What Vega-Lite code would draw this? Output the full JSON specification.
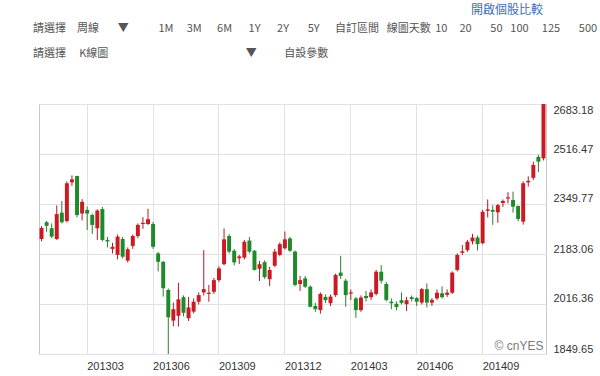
{
  "$schema": "https://vega.github.io/schema/vega-lite/v6.json",
  "width": 507,
  "height": 250,
  "autosize": {"type": "none"},
  "padding": {"left": 39, "top": 104, "right": 54, "bottom": 22},
  "background": "white",
  "title": {
    "text": "\u200b\u3000\u3000\u3000\u3000\u3000\u3000\u3000\u3000\u3000\u3000\u3000\u3000\u3000\u3000\u3000\u3000\u3000\u3000\u3000\u3000\u3000\u3000\u3000\u3000\u3000\u3000\u3000\u3000\u3000\u3000\u3000\u3000\u3000\u3000\u3000\u3000\u2002開啟個股比較",
    "subtitle": [
      "請選擇\u2003周線\u2003\u2002\u2009▼\u2003\u2003\u2002\u20091M\u2003\u20093M\u2003\u2009\u20096M\u2003\u20021Y\u2003\u20022Y\u2003\u2002\u20095Y\u2003\u2009\u2009自訂區間\u2002\u2009線圖天數\u2009\u200910\u2002\u2009\u2009\u200920\u2003\u2002\u200950\u2002\u2009100\u2003\u2009125\u2003\u2002\u2009500",
      "請選擇\u2003\u2009K線圖\u2003\u2003\u2003\u2003\u2003\u2003\u2003\u2003\u2003\u2003\u2003\u2003\u2002▼\u2003\u2003\u2002自設參數"
    ],
    "anchor": "start",
    "frame": "group",
    "dx": -6,
    "offset": 44,
    "font": "Noto Sans CJK TC",
    "fontSize": 12,
    "fontWeight": "normal",
    "color": "#3d6db5",
    "subtitleFont": "Noto Sans CJK TC",
    "subtitleFontSize": 11,
    "subtitleColor": "#555555",
    "subtitleLineHeight": 25,
    "subtitlePadding": 6
  },
  "config": {
    "view": {"stroke": "#c8c8c8"},
    "font": "Liberation Sans"
  },
  "data": {
    "values": [
      {"d": "2012-12-24", "o": 2233, "h": 2276, "l": 2225, "c": 2270},
      {"d": "2012-12-31", "o": 2289, "h": 2293, "l": 2257, "c": 2277},
      {"d": "2013-01-07", "o": 2269, "h": 2285, "l": 2236, "c": 2241},
      {"d": "2013-01-14", "o": 2233, "h": 2345, "l": 2230, "c": 2316},
      {"d": "2013-01-21", "o": 2321, "h": 2360, "l": 2285, "c": 2289},
      {"d": "2013-01-28", "o": 2293, "h": 2425, "l": 2288, "c": 2419},
      {"d": "2013-02-04", "o": 2422, "h": 2445, "l": 2410, "c": 2432},
      {"d": "2013-02-18", "o": 2443, "h": 2444, "l": 2305, "c": 2313},
      {"d": "2013-02-25", "o": 2318, "h": 2366, "l": 2295, "c": 2357},
      {"d": "2013-03-04", "o": 2330, "h": 2341, "l": 2263, "c": 2318},
      {"d": "2013-03-11", "o": 2313, "h": 2318, "l": 2250, "c": 2280},
      {"d": "2013-03-18", "o": 2269, "h": 2332, "l": 2230, "c": 2328},
      {"d": "2013-03-25", "o": 2333, "h": 2340, "l": 2225, "c": 2230},
      {"d": "2013-04-01", "o": 2230, "h": 2240, "l": 2205, "c": 2225},
      {"d": "2013-04-08", "o": 2200, "h": 2220, "l": 2185, "c": 2207},
      {"d": "2013-04-15", "o": 2180, "h": 2248, "l": 2165, "c": 2241},
      {"d": "2013-04-22", "o": 2233, "h": 2240, "l": 2168, "c": 2174},
      {"d": "2013-04-29", "o": 2161, "h": 2205, "l": 2155, "c": 2199},
      {"d": "2013-05-06", "o": 2210, "h": 2248, "l": 2200, "c": 2243},
      {"d": "2013-05-13", "o": 2243, "h": 2285, "l": 2236, "c": 2280},
      {"d": "2013-05-20", "o": 2283, "h": 2306, "l": 2267, "c": 2287},
      {"d": "2013-05-27", "o": 2283, "h": 2334, "l": 2280, "c": 2299},
      {"d": "2013-06-03", "o": 2283, "h": 2290, "l": 2200, "c": 2207},
      {"d": "2013-06-10", "o": 2185, "h": 2190, "l": 2125, "c": 2157},
      {"d": "2013-06-17", "o": 2157, "h": 2160, "l": 2041, "c": 2069},
      {"d": "2013-06-24", "o": 2063, "h": 2068, "l": 1849.65, "c": 1972},
      {"d": "2013-07-01", "o": 1961, "h": 2021, "l": 1942, "c": 1999},
      {"d": "2013-07-08", "o": 1977, "h": 2087, "l": 1941, "c": 2032},
      {"d": "2013-07-15", "o": 2039, "h": 2045, "l": 1975, "c": 1987},
      {"d": "2013-07-22", "o": 1969, "h": 2040, "l": 1960, "c": 2005},
      {"d": "2013-07-29", "o": 1991, "h": 2035, "l": 1985, "c": 2024},
      {"d": "2013-08-05", "o": 2024, "h": 2055, "l": 2015, "c": 2046},
      {"d": "2013-08-12", "o": 2055, "h": 2196, "l": 2045, "c": 2066},
      {"d": "2013-08-19", "o": 2050, "h": 2080, "l": 2024, "c": 2054},
      {"d": "2013-08-26", "o": 2057, "h": 2103, "l": 2050, "c": 2096},
      {"d": "2013-09-02", "o": 2096, "h": 2142, "l": 2090, "c": 2135},
      {"d": "2013-09-09", "o": 2149, "h": 2268, "l": 2145, "c": 2232},
      {"d": "2013-09-16", "o": 2243, "h": 2250, "l": 2185, "c": 2191},
      {"d": "2013-09-23", "o": 2194, "h": 2200, "l": 2145, "c": 2155},
      {"d": "2013-09-30", "o": 2169, "h": 2180, "l": 2150, "c": 2175},
      {"d": "2013-10-07", "o": 2171, "h": 2230, "l": 2165, "c": 2224},
      {"d": "2013-10-14", "o": 2228, "h": 2240, "l": 2185, "c": 2191},
      {"d": "2013-10-21", "o": 2194, "h": 2196, "l": 2128, "c": 2130},
      {"d": "2013-10-28", "o": 2134, "h": 2160, "l": 2093, "c": 2149},
      {"d": "2013-11-04", "o": 2156, "h": 2162, "l": 2100, "c": 2106},
      {"d": "2013-11-11", "o": 2099, "h": 2140, "l": 2076, "c": 2130},
      {"d": "2013-11-18", "o": 2144, "h": 2200, "l": 2140, "c": 2191},
      {"d": "2013-11-25", "o": 2180, "h": 2222, "l": 2175, "c": 2216},
      {"d": "2013-12-02", "o": 2202, "h": 2258, "l": 2198, "c": 2232},
      {"d": "2013-12-09", "o": 2235, "h": 2240, "l": 2190, "c": 2194},
      {"d": "2013-12-16", "o": 2191, "h": 2195, "l": 2075, "c": 2080},
      {"d": "2013-12-23", "o": 2083, "h": 2110, "l": 2060, "c": 2096},
      {"d": "2013-12-30", "o": 2102, "h": 2110, "l": 2070, "c": 2074},
      {"d": "2014-01-06", "o": 2074, "h": 2078, "l": 2005, "c": 2007},
      {"d": "2014-01-13", "o": 2010, "h": 2020, "l": 1990, "c": 1999},
      {"d": "2014-01-20", "o": 1996, "h": 2055, "l": 1984, "c": 2050},
      {"d": "2014-01-27", "o": 2040, "h": 2048, "l": 2020, "c": 2029},
      {"d": "2014-02-03", "o": 2019, "h": 2048, "l": 2010, "c": 2041},
      {"d": "2014-02-10", "o": 2046, "h": 2118, "l": 2040, "c": 2113},
      {"d": "2014-02-17", "o": 2121, "h": 2177, "l": 2100, "c": 2110},
      {"d": "2014-02-24", "o": 2094, "h": 2100, "l": 2007, "c": 2046},
      {"d": "2014-03-03", "o": 2051, "h": 2065, "l": 2030, "c": 2055},
      {"d": "2014-03-10", "o": 2035, "h": 2040, "l": 1970, "c": 1996},
      {"d": "2014-03-17", "o": 1996, "h": 2045, "l": 1990, "c": 2038},
      {"d": "2014-03-24", "o": 2043, "h": 2060, "l": 2025, "c": 2036},
      {"d": "2014-03-31", "o": 2039, "h": 2065, "l": 2030, "c": 2055},
      {"d": "2014-04-07", "o": 2050, "h": 2130, "l": 2045, "c": 2124},
      {"d": "2014-04-14", "o": 2124, "h": 2146, "l": 2085, "c": 2094},
      {"d": "2014-04-21", "o": 2083, "h": 2090, "l": 2025, "c": 2030},
      {"d": "2014-04-28", "o": 2024, "h": 2035, "l": 1999, "c": 2019},
      {"d": "2014-05-05", "o": 2017, "h": 2025, "l": 1995, "c": 2006},
      {"d": "2014-05-12", "o": 2029, "h": 2055, "l": 2015, "c": 2020},
      {"d": "2014-05-19", "o": 2016, "h": 2040, "l": 1993, "c": 2029},
      {"d": "2014-05-26", "o": 2039, "h": 2045, "l": 2025, "c": 2033},
      {"d": "2014-06-02", "o": 2036, "h": 2040, "l": 2010, "c": 2024},
      {"d": "2014-06-09", "o": 2021, "h": 2070, "l": 2015, "c": 2066},
      {"d": "2014-06-16", "o": 2066, "h": 2085, "l": 2005, "c": 2021},
      {"d": "2014-06-23", "o": 2021, "h": 2036, "l": 2010, "c": 2030},
      {"d": "2014-06-30", "o": 2035, "h": 2065, "l": 2030, "c": 2054},
      {"d": "2014-07-07", "o": 2052, "h": 2075, "l": 2035, "c": 2039},
      {"d": "2014-07-14", "o": 2047, "h": 2065, "l": 2040, "c": 2054},
      {"d": "2014-07-21", "o": 2054, "h": 2125, "l": 2050, "c": 2121},
      {"d": "2014-07-28", "o": 2130, "h": 2185, "l": 2125, "c": 2180},
      {"d": "2014-08-04", "o": 2187, "h": 2213, "l": 2180, "c": 2192},
      {"d": "2014-08-11", "o": 2196, "h": 2230, "l": 2190, "c": 2224},
      {"d": "2014-08-18", "o": 2225, "h": 2250, "l": 2215, "c": 2238},
      {"d": "2014-08-25", "o": 2238, "h": 2245, "l": 2195, "c": 2216},
      {"d": "2014-09-01", "o": 2219, "h": 2330, "l": 2215, "c": 2324},
      {"d": "2014-09-08", "o": 2327, "h": 2365, "l": 2305, "c": 2332},
      {"d": "2014-09-15", "o": 2330, "h": 2346, "l": 2280, "c": 2324},
      {"d": "2014-09-22", "o": 2322, "h": 2350, "l": 2287, "c": 2346},
      {"d": "2014-09-29", "o": 2353, "h": 2365, "l": 2340, "c": 2360},
      {"d": "2014-10-06", "o": 2368, "h": 2389, "l": 2352, "c": 2372},
      {"d": "2014-10-13", "o": 2363, "h": 2391, "l": 2321, "c": 2341},
      {"d": "2014-10-20", "o": 2343, "h": 2345, "l": 2292, "c": 2300},
      {"d": "2014-10-27", "o": 2291, "h": 2425, "l": 2281, "c": 2419},
      {"d": "2014-11-03", "o": 2422, "h": 2442, "l": 2408, "c": 2427},
      {"d": "2014-11-10", "o": 2437, "h": 2491, "l": 2430, "c": 2480},
      {"d": "2014-11-17", "o": 2507, "h": 2514, "l": 2456, "c": 2491},
      {"d": "2014-11-24", "o": 2502, "h": 2683.18, "l": 2495, "c": 2683}
    ]
  },
  "encoding": {
    "x": {
      "field": "d",
      "type": "ordinal",
      "scale": {"paddingInner": 0.22, "paddingOuter": 0.11},
      "axis": {
        "title": null,
        "values": ["2013-03-04", "2013-06-03", "2013-09-02", "2013-12-02", "2014-03-03", "2014-06-02", "2014-09-01"],
        "labelExpr": "replace(slice(datum.label, 0, 7), '-', '')",
        "labelAngle": 0,
        "labelAlign": "left",
        "labelPadding": 6,
        "labelFontSize": 11,
        "labelColor": "#333333",
        "labelFont": "Liberation Sans",
        "bandPosition": 0.5,
        "ticks": false,
        "domain": false,
        "grid": true,
        "gridColor": "#e2e2e2"
      }
    }
  },
  "layer": [
    {
      "mark": {"type": "rule", "strokeWidth": 1},
      "encoding": {
        "y": {
          "field": "l",
          "type": "quantitative",
          "scale": {"domain": [1849.65, 2683.18], "nice": false, "zero": false},
          "axis": {
            "title": null,
            "orient": "right",
            "values": [1849.65, 1933.005, 2016.36, 2099.71, 2183.06, 2266.415, 2349.77, 2433.12, 2516.47, 2599.825, 2683.18],
            "format": ".2f",
            "labelExpr": "indexof([1849.65, 2016.36, 2183.06, 2349.77, 2516.47, 2683.18], datum.value) >= 0 ? datum.label : ''",
            "labelBaseline": {"condition": {"test": "datum.value > 2680", "value": "top"}, "value": "bottom"},
            "labelPadding": 7,
            "labelFontSize": 11,
            "labelColor": "#333333",
            "labelFont": "Liberation Sans",
            "ticks": false,
            "domain": false,
            "grid": true,
            "gridColor": "#e2e2e2"
          }
        },
        "y2": {"field": "h"},
        "color": {"condition": {"test": "datum.c >= datum.o", "value": "#b51822"}, "value": "#2f7d32"}
      }
    },
    {
      "mark": {"type": "bar"},
      "encoding": {
        "y": {"field": "o", "type": "quantitative"},
        "y2": {"field": "c"},
        "color": {"condition": {"test": "datum.c >= datum.o", "value": "#cc1a24"}, "value": "#1f8a2a"}
      }
    },
    {
      "data": {"values": [{"t": "© cnYES"}]},
      "mark": {"type": "text", "align": "right", "baseline": "middle", "fontSize": 12, "color": "#7a7a7a", "font": "Liberation Sans"},
      "encoding": {
        "x": {"datum": "2014-11-24"},
        "y": {"datum": 1876},
        "text": {"field": "t"}
      }
    }
  ]
}
